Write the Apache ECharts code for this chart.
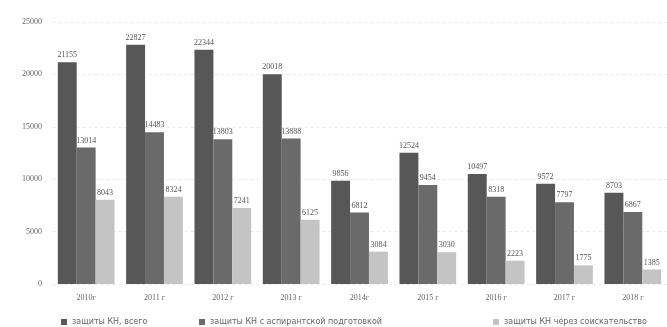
<!DOCTYPE html>
<html>
<head>
<meta charset="utf-8">
<script src="https://cdn.jsdelivr.net/npm/echarts@6/dist/echarts.min.js"></script>
<style>
  html, body { margin: 0; padding: 0; background: #fff; }
  #chart { width: 667px; height: 327px; }
</style>
</head>
<body>
<div id="chart"></div>
<script>
// Защиты кандидатских диссертаций по годам
const years = ['2010г', '2011 г', '2012 г', '2013 г', '2014г', '2015 г', '2016 г', '2017 г', '2018 г'];
const totalDefenses = [21155, 22827, 22344, 20018, 9856, 12524, 10497, 9572, 8703];
const postgradDefenses = [13014, 14483, 13803, 13888, 6812, 9454, 8318, 7797, 6867];
const externalDefenses = [8043, 8324, 7241, 6125, 3084, 3030, 2223, 1775, 1385];
const seriesNames = [
  'защиты КН, всего',
  'защиты КН с аспирантской подготовкой',
  'защиты КН через соискательство'
];
const yTicks = { min: 0, max: 25000, step: 5000 };

const colors = ['#575757', '#6a6a6a', '#c4c4c4'];
const labelStyle = { show: true, position: 'top', fontSize: 8, color: '#555', distance: 3, fontFamily: 'Liberation Serif' };

function bar(name, data, color) {
  return {
    name, type: 'bar', data,
    itemStyle: { color },
    barGap: '0%', barCategoryGap: '17%',
    label: labelStyle
  };
}

function legendAt(left, name) {
  return {
    left, top: 313, data: [name], itemWidth: 6, itemHeight: 6, icon: 'rect',
    textStyle: { fontSize: 8, color: '#666', fontFamily: 'DejaVu Sans' }
  };
}

const chart = echarts.init(document.getElementById('chart'));
chart.setOption({
  animation: false,
  backgroundColor: '#fff',
  grid: { left: 52, right: -6, top: 22, bottom: 43, containLabel: false },
  legend: [
    legendAt(56, seriesNames[0]),
    legendAt(194, seriesNames[1]),
    legendAt(488, seriesNames[2])
  ],
  xAxis: {
    type: 'category', data: years,
    axisLine: { show: false }, axisTick: { show: false },
    axisLabel: { fontSize: 8, color: '#666', margin: 10, fontFamily: 'Liberation Serif' }
  },
  yAxis: {
    type: 'value', min: yTicks.min, max: yTicks.max, interval: yTicks.step,
    axisLine: { show: false }, axisTick: { show: false },
    axisLabel: { fontSize: 8, color: '#666', margin: 10, fontFamily: 'Liberation Serif', formatter: v => String(v) },
    splitLine: { lineStyle: { color: '#eeeeee', type: 'dashed' } }
  },
  series: [
    bar(seriesNames[0], totalDefenses, colors[0]),
    bar(seriesNames[1], postgradDefenses, colors[1]),
    bar(seriesNames[2], externalDefenses, colors[2])
  ]
});
</script>
</body>
</html>
